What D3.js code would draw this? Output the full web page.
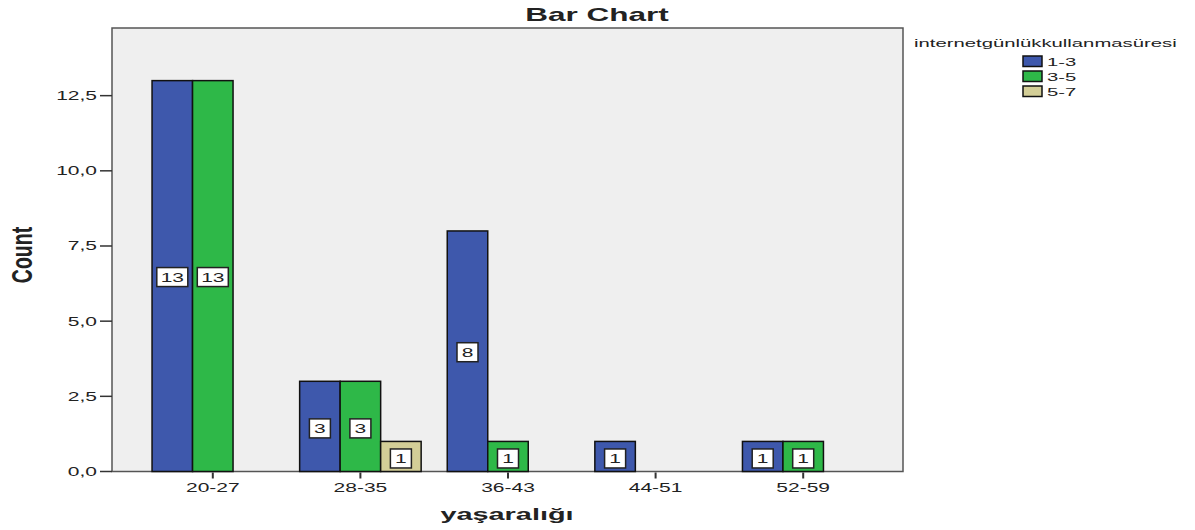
<!DOCTYPE html>
<html>
<head>
<meta charset="utf-8">
<script src="https://cdn.jsdelivr.net/npm/d3@7"></script>
<style>
body{margin:0;background:#fff;}
text{font-family:"Liberation Sans",Arial,sans-serif;fill:#222;}
</style>
</head>
<body>
<div id="chart"></div>
<script>
// data
var categories = ['20-27','28-35','36-43','44-51','52-59'];
var series = ['1-3','3-5','5-7'];
var v13 = [13,3,8,1,1];
var v35 = [13,3,1,0,1];
var v57 = [0,1,0,0,0];
var yTicks = [0,2.5,5,7.5,10,12.5];
var colors = ['#3e58ac','#2eb848','#d3ce97'];

var W = 1195, H = 530, SX = 1.75;
var plot = {l:112, t:28, r:903, b:471.5};

var svg = d3.select('#chart').append('svg').attr('width',W).attr('height',H);

// stretched text helper
function stext(g, x, y, str, size, anchor, bold) {
  return g.append('text')
    .attr('transform','translate('+x+','+y+') scale('+SX+',1)')
    .attr('text-anchor',anchor||'start')
    .style('font-size',size+'px')
    .style('font-weight',bold?'bold':'normal')
    .text(str);
}

var y = d3.scaleLinear().domain([0,14.75]).range([plot.b,plot.t]);
var x = d3.scaleBand().domain(categories).range([139,877]);
var xs = d3.scaleBand().domain(series).range([0,121.5]);

svg.append('rect').attr('x',plot.l).attr('y',plot.t)
  .attr('width',plot.r-plot.l).attr('height',plot.b-plot.t)
  .style('fill','#efefef').style('stroke','#555').style('stroke-width',1.5);

var rows = [];
categories.forEach(function(c,i){
  [v13,v35,v57].forEach(function(arr,j){
    if (arr[i]>0) rows.push({c:c, s:series[j], v:arr[i], col:colors[j]});
  });
});

var bars = svg.selectAll('g.bar').data(rows).enter().append('g').attr('class','bar');
bars.append('rect')
  .attr('x',d=>x(d.c)+x.bandwidth()/2-60.75+xs(d.s))
  .attr('y',d=>y(d.v))
  .attr('width',xs.bandwidth())
  .attr('height',d=>y(0)-y(d.v))
  .style('fill',d=>d.col).style('stroke','#111').style('stroke-width',1.5);

// value labels
bars.each(function(d){
  var g = d3.select(this);
  var cx = x(d.c)+x.bandwidth()/2-60.75+xs(d.s)+xs.bandwidth()/2;
  var cy = (y(d.v)+y(0))/2 + (d.v<5?2:1);
  var bw = String(d.v).length>1 ? 31 : 21;
  g.append('rect').attr('x',cx-bw/2).attr('y',cy-9.5).attr('width',bw).attr('height',19)
    .style('fill','#fff').style('stroke','#222').style('stroke-width',1.5);
  stext(g, cx, cy+4.5, d.v, 12, 'middle');
});

// y axis
var ya = svg.append('g');
yTicks.forEach(function(t){
  ya.append('line').attr('x1',100).attr('x2',plot.l).attr('y1',y(t)).attr('y2',y(t))
    .style('stroke','#333').style('stroke-width',1.5);
  stext(ya, 97, y(t)+4.5, d3.format('.1f')(t).replace('.',','), 12, 'end');
});

// x axis
var xa = svg.append('g');
categories.forEach(function(c){
  var cx = x(c)+x.bandwidth()/2;
  xa.append('line').attr('x1',cx).attr('x2',cx).attr('y1',plot.b+1).attr('y2',plot.b+7)
    .style('stroke','#333').style('stroke-width',2);
  stext(xa, cx, 492, c, 12, 'middle');
});

// titles
stext(svg, 597, 21, 'Bar Chart', 18, 'middle', true);
stext(svg, 507, 520, 'yaşaralığı', 16.5, 'middle', true);
svg.append('text')
  .attr('transform','translate(32,255) rotate(-90) scale(1,1.5)')
  .attr('text-anchor','middle').style('font-size','19.5px').style('font-weight','bold')
  .text('Count');

// legend
var lg = svg.append('g');
stext(lg, 914, 47, 'internetgünlükkullanmasüresi', 11.6, 'start');
series.forEach(function(s,i){
  lg.append('rect').attr('x',1023).attr('y',56+i*15).attr('width',19).attr('height',10.5)
    .style('fill',colors[i]).style('stroke','#111').style('stroke-width',1.5);
  stext(lg, 1047, 66+i*15, s, 11.6, 'start');
});
</script>
</body>
</html>
